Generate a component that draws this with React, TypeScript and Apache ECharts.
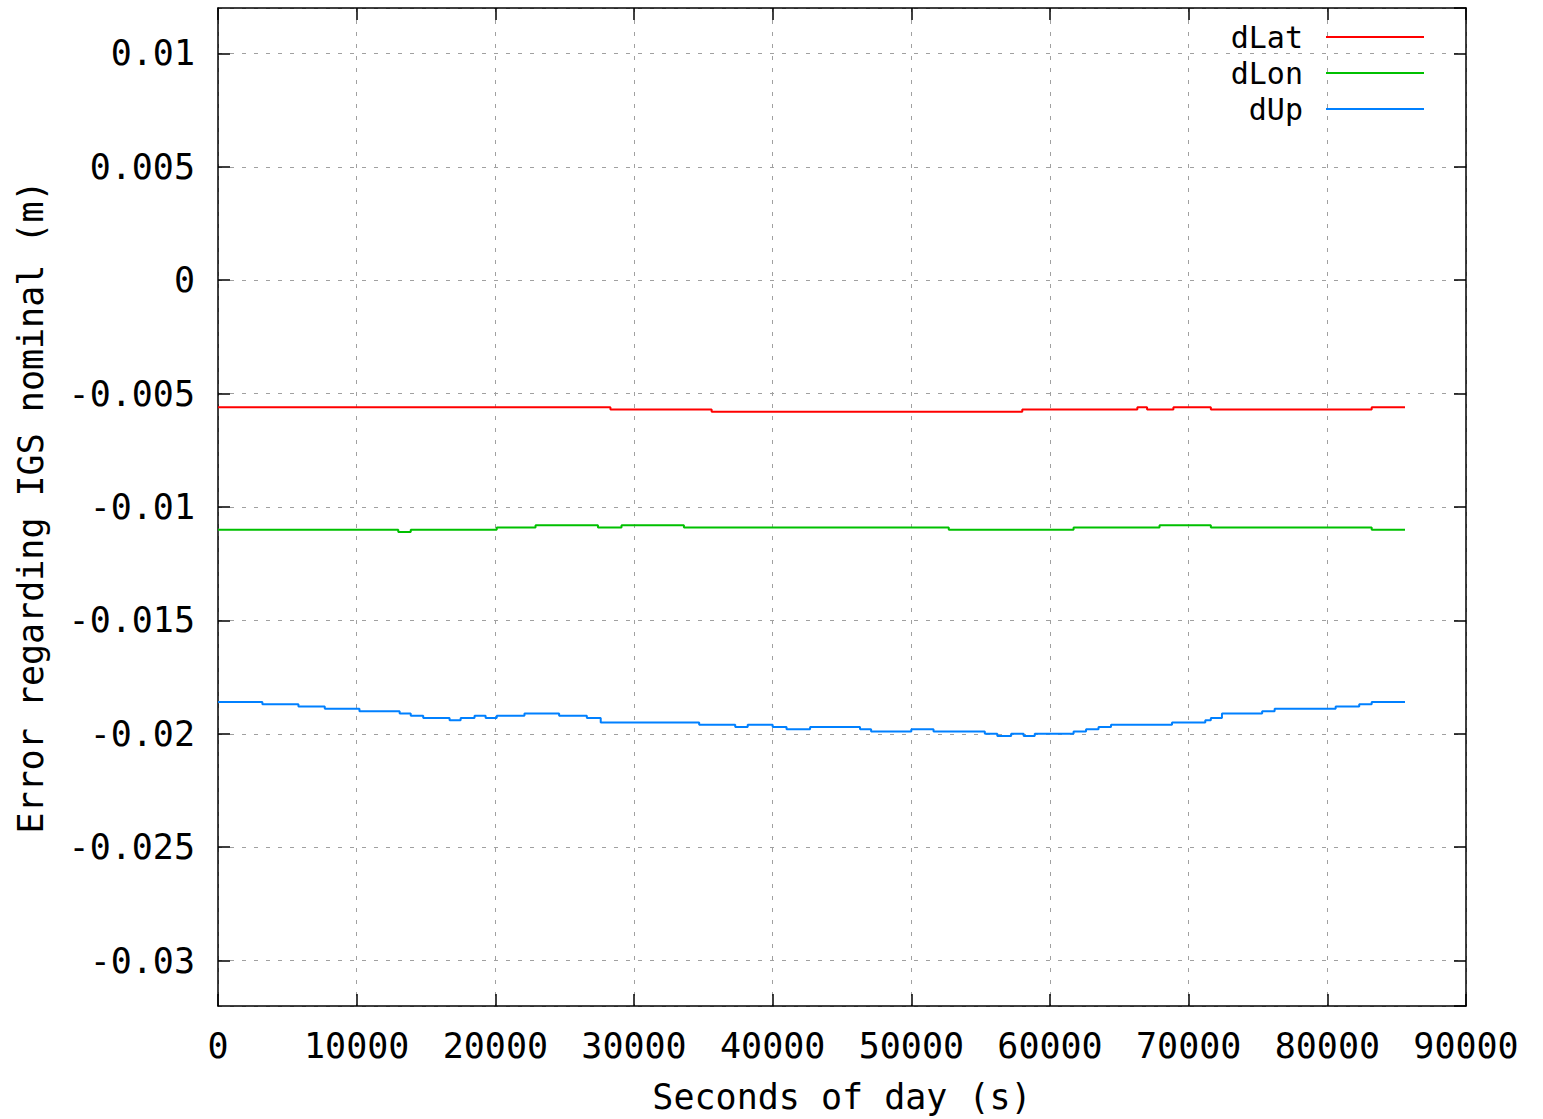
import React, { useEffect, useRef } from "react";
import * as echarts from "echarts";

const seriesNames = ["dLat", "dLon", "dUp"];
const seriesColors = ["#ff0000", "#00c000", "#0080ff"];

// step start positions (seconds of day) and levels (m)
const dLatX = [0, 28300, 35600, 58000, 66300, 67000, 68900, 71600, 83200, 85600];
const dLatY = [-0.0056, -0.0057, -0.0058, -0.0057, -0.0056, -0.0057, -0.0056, -0.0057, -0.0056, -0.0056];

const dLonX = [0, 13000, 13900, 20100, 22900, 27400, 29100, 33600, 52700, 61700, 67900, 71600, 83200, 85600];
const dLonY = [-0.011, -0.0111, -0.011, -0.0109, -0.0108, -0.0109, -0.0108, -0.0109, -0.011, -0.0109, -0.0108, -0.0109, -0.011, -0.011];

const dUpX = [
  0, 3200, 5800, 7700, 10200, 13100, 13900, 14800, 16700, 17500, 18500, 19300, 20100, 22100, 24600,
  26600, 27600, 34700, 37300, 38200, 40000, 41000, 42700, 46300, 47100, 50000, 51600, 55300, 56200,
  57200, 58100, 58900, 61700, 62600, 63500, 64400, 68800, 71200, 71600, 72400, 75300, 76200, 80600,
  82300, 83200, 85600,
];
const dUpY = [
  -0.0186, -0.0187, -0.0188, -0.0189, -0.019, -0.0191, -0.0192, -0.0193, -0.0194, -0.0193, -0.0192,
  -0.0193, -0.0192, -0.0191, -0.0192, -0.0193, -0.0195, -0.0196, -0.0197, -0.0196, -0.0197, -0.0198,
  -0.0197, -0.0198, -0.0199, -0.0198, -0.0199, -0.02, -0.0201, -0.02, -0.0201, -0.02, -0.0199, -0.0198,
  -0.0197, -0.0196, -0.0195, -0.0194, -0.0193, -0.0191, -0.019, -0.0189, -0.0188, -0.0187, -0.0186,
  -0.0186,
];

const xName = "Seconds of day (s)";
const yName = "Error regarding IGS nominal (m)";

const FONT = "DejaVu Sans Mono";
const FS = 35;
const LEGEND_FS = 30;

export default function App() {
  const ref = useRef<HTMLDivElement>(null);
  useEffect(() => {
    if (!ref.current) return;
    const chart = echarts.init(ref.current, undefined, { renderer: "svg" });
    const xs = [dLatX, dLonX, dUpX];
    const ys = [dLatY, dLonY, dUpY];
    const gridLine = { show: true, lineStyle: { color: "#a0a0a0", type: [4, 8] as any, width: 1 } };
    const axisLine = { show: true, onZero: false, lineStyle: { color: "#000", width: 1.5 } };
    const tick = { show: true, inside: true, length: 12, lineStyle: { color: "#000", width: 1.5 } };
    chart.setOption({
      animation: false,
      backgroundColor: "#fff",
      textStyle: { fontFamily: FONT },
      grid: { left: 218, right: 77, top: 8, bottom: 109, containLabel: false },
      legend: {
        data: seriesNames,
        orient: "vertical",
        right: 114,
        top: 17,
        align: "right",
        icon: "rect",
        itemWidth: 98,
        itemHeight: 2,
        itemGap: 6,
        textStyle: { fontFamily: FONT, fontSize: LEGEND_FS, color: "#000", padding: [0, 18, 0, 0] },
      },
      xAxis: [
        {
          type: "value",
          min: 0,
          max: 90000,
          interval: 10000,
          name: xName,
          nameLocation: "middle",
          nameGap: 73,
          nameTextStyle: { fontFamily: FONT, fontSize: FS, color: "#000" },
          axisLine,
          axisTick: tick,
          axisLabel: {
            fontFamily: FONT,
            fontSize: FS,
            color: "#000",
            margin: 22,
            formatter: (v: number) => String(v),
          },
          splitLine: gridLine,
        },
        {
          type: "value",
          position: "top",
          min: 0,
          max: 90000,
          interval: 10000,
          axisLine,
          axisTick: tick,
          axisLabel: { show: false },
          splitLine: { show: false },
        },
      ],
      yAxis: [
        {
          type: "value",
          min: -0.032,
          max: 0.012,
          splitNumber: 9,
          name: yName,
          nameLocation: "middle",
          nameGap: 170,
          nameTextStyle: { fontFamily: FONT, fontSize: FS, color: "#000" },
          axisLine,
          axisTick: tick,
          axisLabel: {
            fontFamily: FONT,
            fontSize: FS,
            color: "#000",
            margin: 23,
            showMinLabel: false,
            showMaxLabel: false,
          },
          splitLine: gridLine,
        },
        {
          type: "value",
          position: "right",
          min: -0.032,
          max: 0.012,
          splitNumber: 9,
          axisLine,
          axisTick: tick,
          axisLabel: { show: false },
          splitLine: { show: false },
        },
      ],
      series: seriesNames.map((name, i) => ({
        name,
        type: "line",
        step: "end",
        showSymbol: false,
        symbol: "none",
        xAxisIndex: 0,
        yAxisIndex: 0,
        color: seriesColors[i],
        lineStyle: { color: seriesColors[i], width: 2 },
        data: xs[i].map((x, k) => [x, ys[i][k]]),
      })),
    });
    return () => chart.dispose();
  }, []);
  return (
    <div
      ref={ref}
      style={{ position: "fixed", left: 0, top: 0, width: 1543, height: 1119, background: "#fff" }}
    />
  );
}
